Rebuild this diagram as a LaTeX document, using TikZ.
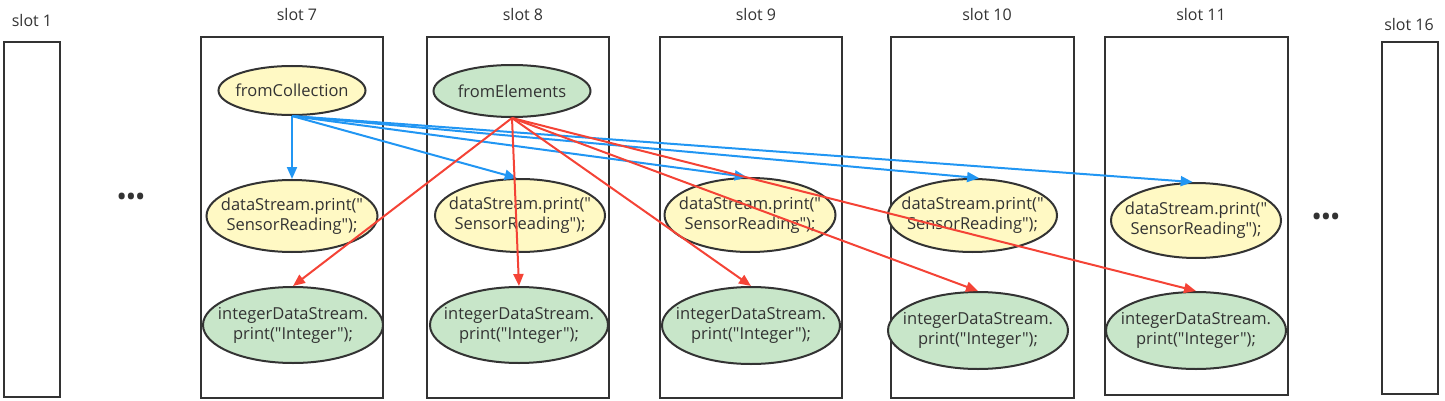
\documentclass[tikz,border=0pt]{standalone}
\usepackage{fontspec}
\setmainfont{Open Sans}[Ligatures=TeXOff]
\usetikzlibrary{shapes.geometric,arrows.meta}
\definecolor{bl}{HTML}{2196F3}
\definecolor{rd}{HTML}{F44336}
\definecolor{yl}{HTML}{FFF9C4}
\definecolor{gr}{HTML}{C8E6C9}
\definecolor{ln}{HTML}{333333}
\begin{document}
\begin{tikzpicture}[x=1pt,y=-1pt,
  slotbox/.style={draw=ln,line width=2pt,rectangle,inner sep=0pt},
  slotlbl/.style={text=ln,font=\fontsize{16}{18}\selectfont,inner sep=0pt},
  etxt/.style={text=ln,align=center,inner sep=0pt,font=\fontsize{16.5}{20}\selectfont},
  ell/.style={ellipse,draw=ln,line width=2pt,inner sep=0pt},
  yel/.style={ell,fill=yl},
  grn/.style={ell,fill=gr},
  blarr/.style={draw=bl,line width=2pt,-{Triangle[length=12pt,width=10pt]}},
  rdarr/.style={draw=rd,line width=2pt,-{Triangle[length=12pt,width=10pt]}},
  dots/.style={text=ln,font=\fontsize{22}{22}\selectfont\bfseries,inner sep=0pt}]
\useasboundingbox (0,0) rectangle (1445,401);
% slot boxes
\node[slotbox,minimum width=56pt,minimum height=355pt] (s1) at (32,219.5) {};
\node[slotbox,minimum width=182pt,minimum height=361pt] (s7) at (292,217.5) {};
\node[slotbox,minimum width=182pt,minimum height=361pt] (s8) at (518,217.5) {};
\node[slotbox,minimum width=182pt,minimum height=361pt] (s9) at (751,217.5) {};
\node[slotbox,minimum width=183pt,minimum height=361pt] (s10) at (982.5,217.5) {};
\node[slotbox,minimum width=183pt,minimum height=358pt] (s11) at (1196.5,216) {};
\node[slotbox,minimum width=56pt,minimum height=352pt] (s16) at (1410,218) {};
% labels
\node[slotlbl] (l1) at (32,21) {slot 1};
\node[slotlbl] (l7) at (297,15) {slot 7};
\node[slotlbl] (l8) at (523,15) {slot 8};
\node[slotlbl] (l9) at (756,15) {slot 9};
\node[slotlbl] (l10) at (987,15) {slot 10};
\node[slotlbl] (l11) at (1201,15) {slot 11};
\node[slotlbl] (l16) at (1409,25) {slot 16};
% dots
\node[dots] (dl) at (131,199) {\textbullet\kern1pt\textbullet\kern1pt\textbullet};
\node[dots] (dr) at (1326,219) {\textbullet\kern1pt\textbullet\kern1pt\textbullet};
% ellipses
\node[yel,minimum width=147pt,minimum height=49pt,label={[etxt]center:fromCollection}] (c7) at (292,90.5) {};
\node[grn,minimum width=157pt,minimum height=52pt,label={[etxt]center:fromElements}] (e8) at (512,91) {};
\node[yel,minimum width=171pt,minimum height=72pt,label={[etxt]center:{dataStream.print("\\SensorReading");}}] (d7) at (292,216) {};
\node[yel,minimum width=170pt,minimum height=73pt,label={[etxt]center:{dataStream.print("\\SensorReading");}}] (d8) at (520,215.5) {};
\node[yel,minimum width=171pt,minimum height=74pt,label={[etxt]center:{dataStream.print("\\SensorReading");}}] (d9) at (750,215) {};
\node[yel,minimum width=169pt,minimum height=73pt,label={[etxt]center:{dataStream.print("\\SensorReading");}}] (d10) at (972.5,215.5) {};
\node[yel,minimum width=170pt,minimum height=75pt,label={[etxt]center:{dataStream.print("\\SensorReading");}}] (d11) at (1196,220.5) {};
\node[grn,minimum width=180pt,minimum height=76pt,label={[etxt]center:{integerDataStream.\\print("Integer");}}] (i7) at (293,325) {};
\node[grn,minimum width=178pt,minimum height=76pt,label={[etxt]center:{integerDataStream.\\print("Integer");}}] (i8) at (519,325) {};
\node[grn,minimum width=178pt,minimum height=77pt,label={[etxt]center:{integerDataStream.\\print("Integer");}}] (i9) at (751,325.5) {};
\node[grn,minimum width=180pt,minimum height=77pt,label={[etxt]center:{integerDataStream.\\print("Integer");}}] (i10) at (978,330.5) {};
\node[grn,minimum width=180pt,minimum height=77pt,label={[etxt]center:{integerDataStream.\\print("Integer");}}] (i11) at (1196,330.5) {};
% blue arrows
\draw[blarr] (c7.south) -- (d7.north);
\draw[blarr] (c7.south) -- (d8.95);
\draw[blarr] (c7.south) -- (d9.95);
\draw[blarr] (c7.south) -- (d10.80);
\draw[blarr] (c7.south) -- (d11.95);
% red arrows
\draw[rdarr] (e8.south) -- (i7.north);
\draw[rdarr] (e8.south) -- (i8.north);
\draw[rdarr] (e8.south) -- (i9.north);
\draw[rdarr] (e8.south) -- (i10.north);
\draw[rdarr] (e8.south) -- (i11.north);
\end{tikzpicture}
\end{document}
